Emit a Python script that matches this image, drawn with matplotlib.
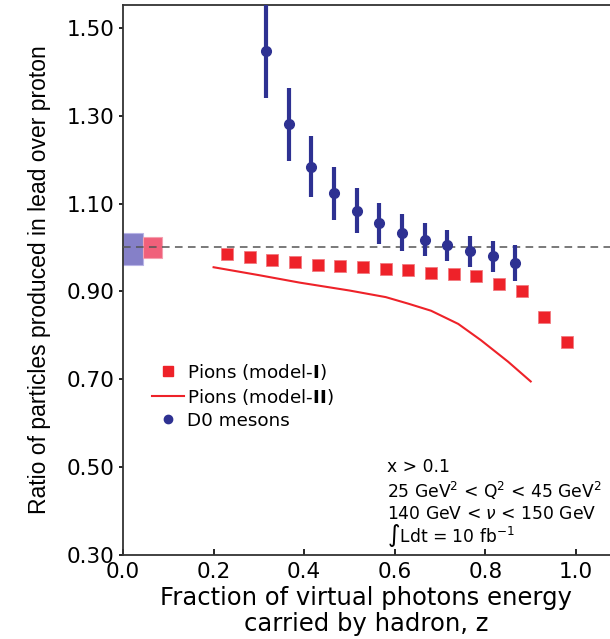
import numpy as np
import matplotlib
matplotlib.use('Agg')
import matplotlib.pyplot as plt
from matplotlib.patches import Rectangle
from matplotlib.lines import Line2D

plt.rcParams['font.family'] = ['DejaVu Sans']
plt.rcParams['mathtext.fontset'] = 'dejavusans'

# Pions, model-I (squares)
z_pi1 = [0.23, 0.28, 0.33, 0.38, 0.43, 0.48, 0.53, 0.58, 0.63, 0.68, 0.73, 0.78, 0.83, 0.88, 0.93, 0.98]
r_pi1 = [0.984, 0.979, 0.972, 0.966, 0.959, 0.957, 0.955, 0.952, 0.948, 0.943, 0.939, 0.934, 0.916, 0.900, 0.841, 0.784]

# Pions, model-II (line)
z_pi2 = [0.20, 0.30, 0.39, 0.50, 0.58, 0.63, 0.68, 0.74, 0.79, 0.85, 0.90]
r_pi2 = [0.955, 0.937, 0.920, 0.902, 0.887, 0.872, 0.856, 0.826, 0.789, 0.740, 0.695]

# D0 mesons
z_d0 = [0.316, 0.366, 0.415, 0.466, 0.516, 0.565, 0.616, 0.667, 0.715, 0.766, 0.817, 0.865]
r_d0 = [1.448, 1.280, 1.184, 1.123, 1.084, 1.055, 1.034, 1.018, 1.005, 0.991, 0.980, 0.964]
e_d0 = [0.107, 0.084, 0.069, 0.060, 0.051, 0.047, 0.042, 0.037, 0.035, 0.036, 0.035, 0.041]

# normalisation boxes at z~0 (x0, x1, y0, y1)
box_blue = (0.0, 0.044, 0.959, 1.034)
box_pink = (0.044, 0.086, 0.975, 1.023)

red = '#ee2229'
blue = '#2e3192'

fig = plt.figure(figsize=(6.10, 6.39), dpi=100)
ax = fig.add_axes([0.2016, 0.1315, 0.7984, 0.8607])

ax.add_patch(Rectangle((box_blue[0], box_blue[2]), box_blue[1] - box_blue[0],
                       box_blue[3] - box_blue[2], facecolor='#8580c8', edgecolor='#b8b4e6', lw=0.8, zorder=2))
ax.add_patch(Rectangle((box_pink[0], box_pink[2]), box_pink[1] - box_pink[0],
                       box_pink[3] - box_pink[2], facecolor='#f0607a', edgecolor='#f4a0b0', lw=0.8, zorder=2))

ax.axhline(1.0, color='#555555', ls=(0, (5, 3.5)), lw=1.1, zorder=3)

ax.plot(z_pi2, r_pi2, color=red, lw=1.5, zorder=4)
ax.plot(z_pi1, r_pi1, ls='none', marker='s', ms=8, color=red, mec='#f27a80', mew=0.6, zorder=5)
ax.errorbar(z_d0, r_d0, yerr=e_d0, fmt='o', color=blue, ms=7, elinewidth=3, capsize=0, zorder=6)

ax.set_xlim(0.0, 1.075)
ax.set_ylim(0.30, 1.552)
ax.set_xticks([0.0, 0.2, 0.4, 0.6, 0.8, 1.0])
ax.set_xticklabels(['0.0', '0.2', '0.4', '0.6', '0.8', '1.0'])
ax.set_yticks([0.30, 0.50, 0.70, 0.90, 1.10, 1.30, 1.50])
ax.set_yticklabels(['0.30', '0.50', '0.70', '0.90', '1.10', '1.30', '1.50'])
ax.tick_params(axis='x', direction='in', length=4, width=1.2, labelsize=15.5, pad=5)
ax.tick_params(axis='y', direction='out', length=3, width=1.2, labelsize=15.5, pad=3)

ax.spines['right'].set_visible(False)
for s in ['left', 'bottom', 'top']:
    ax.spines[s].set_color('#333333')
    ax.spines[s].set_linewidth(1.3)

ax.set_xlabel('Fraction of virtual photons energy\ncarried by hadron, z', fontsize=17.5, labelpad=3,
              linespacing=1.12)
ax.set_ylabel('Ratio of particles produced in lead over proton', fontsize=16.5, labelpad=11,
              family='Liberation Sans')

handles = [Line2D([], [], ls='none', marker='s', ms=7, color=red),
           Line2D([], [], color=red, lw=1.5),
           Line2D([], [], ls='none', marker='o', ms=6, color=blue)]
labels = [r'Pions (model-$\mathbf{I}$)', r'Pions (model-$\mathbf{II}$)', 'D0 mesons']
ax.legend(handles, labels, loc='upper left', bbox_to_anchor=(0.044, 0.365), frameon=False,
          fontsize=13.2, handlelength=1.75, handletextpad=0.2, labelspacing=0.28,
          borderaxespad=0.0)

ax.text(0.542, 0.177, 'x > 0.1\n'
        r'25 GeV$^2$ < Q$^2$ < 45 GeV$^2$' '\n'
        r'140 GeV < $\nu$ < 150 GeV',
        transform=ax.transAxes, fontsize=12.3, va='top', ha='left', linespacing=1.22)
ax.text(0.542, 0.024, '\u222bLdt = 10 fb$^{-1}$',
        transform=ax.transAxes, fontsize=12.3, va='baseline', ha='left')

fig.savefig('out.png', dpi=100)
